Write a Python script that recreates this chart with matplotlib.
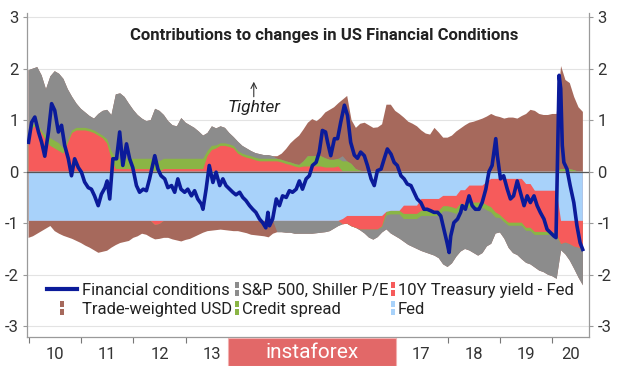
import numpy as np
import matplotlib.pyplot as plt
import matplotlib.font_manager as fm
from matplotlib.lines import Line2D
from matplotlib.path import Path
from matplotlib.patches import Rectangle

names = {f.name for f in fm.fontManager.ttflist}
FONT = 'Liberation Sans Narrow' if 'Liberation Sans Narrow' in names else 'Roboto'
plt.rcParams['font.family'] = [FONT, 'DejaVu Sans']

# monthly contributions, Jan 2010 .. Aug 2020
start_year = 2010
fed = [
    -0.955, -0.955, -0.955, -0.955, -0.955, -0.955, -0.955, -0.955, -0.955, -0.955, -0.955, -0.955,
    -0.955, -0.955, -0.955, -0.955, -0.955, -0.955, -0.955, -0.955, -0.955, -0.955, -0.955, -0.955,
    -0.955, -0.955, -0.955, -0.955, -0.955, -0.955, -0.955, -0.955, -0.955, -0.955, -0.955, -0.955,
    -0.955, -0.955, -0.955, -0.955, -0.955, -0.955, -0.955, -0.955, -0.955, -0.955, -0.955, -0.955,
    -0.955, -0.955, -0.955, -0.955, -0.955, -0.955, -0.955, -0.955, -0.955, -0.955, -0.955, -0.955,
    -0.955, -0.955, -0.955, -0.955, -0.955, -0.955, -0.955, -0.955, -0.955, -0.955, -0.955, -0.955,
    -0.92, -0.86, -0.86, -0.86, -0.86, -0.86, -0.86, -0.86, -0.86, -0.86, -0.78, -0.76,
    -0.76, -0.76, -0.66, -0.66, -0.66, -0.66, -0.53, -0.53, -0.53, -0.53, -0.53, -0.47,
    -0.47, -0.47, -0.47, -0.36, -0.36, -0.27, -0.27, -0.27, -0.27, -0.2, -0.14, -0.14,
    -0.14, -0.14, -0.14, -0.14, -0.14, -0.14, -0.24, -0.24, -0.37, -0.37, -0.37, -0.37,
    -0.37, -0.37, -0.955, -0.955, -0.955, -0.955, -0.955, -0.955,
]
treasury = [
    0.6, 0.85, 0.9, 0.75, 0.6, 0.5, 0.45, 0.4, 0.35, 0.55, 0.75, 0.8,
    0.8, 0.8, 0.78, 0.75, 0.7, 0.65, 0.55, 0.25, 0.05, 0.05, 0.05, 0.05,
    0.05, 0.05, 0.05, 0.05, 0.05, -0.08, -0.06, 0.05, 0.05, 0.05, 0.05, 0.05,
    0.05, 0.05, 0.05, 0.05, 0.05, 0.3, 0.42, 0.45, 0.5, 0.5, 0.48, 0.45,
    0.35, 0.3, 0.27, 0.25, 0.22, 0.2, 0.2, 0.2, 0.2, 0.2, 0.18, 0.15,
    0.13, 0.1, 0.08, 0.1, 0.1, 0.1, 0.1, 0.1, 0.08, 0.08, 0.08, 0.1,
    -0.1, -0.15, -0.2, -0.23, -0.26, -0.26, -0.26, -0.26, -0.26, -0.2, 0.0, 0.0,
    0.0, 0.0, -0.16, -0.16, -0.16, -0.16, -0.23, -0.23, -0.23, -0.23, -0.23, -0.2,
    -0.2, -0.22, -0.25, -0.26, -0.28, -0.33, -0.33, -0.33, -0.33, -0.45, -0.55, -0.65,
    -0.7, -0.78, -0.85, -0.85, -0.85, -0.85, -0.85, -0.85, -0.8, -0.8, -0.8, -0.8,
    -0.8, -0.85, -0.45, -0.42, -0.45, -0.5, -0.52, -0.55,
]
credit = [
    0.05, 0.05, 0.05, 0.05, 0.1, 0.15, 0.15, 0.15, 0.1, 0.05, 0.05, 0.05,
    0.05, 0.05, 0.05, 0.05, 0.05, 0.05, 0.08, 0.15, 0.2, 0.2, 0.2, 0.2,
    0.2, 0.2, 0.2, 0.2, 0.2, 0.2, 0.2, 0.2, 0.2, 0.2, 0.2, 0.2,
    0.2, 0.2, 0.2, 0.2, 0.2, 0.1, 0.08, 0.06, 0.05, 0.05, 0.05, 0.05,
    0.05, 0.05, 0.05, 0.05, 0.05, 0.05, 0.05, 0.05, 0.05, 0.05, 0.05, 0.05,
    0.05, 0.05, 0.05, 0.1, 0.2, 0.2, 0.2, 0.2, 0.18, 0.15, 0.15, 0.15,
    0.2, 0.2, 0.15, 0.05, 0.02, 0.0, 0.0, 0.0, 0.0, -0.02, -0.07, -0.07,
    -0.07, -0.07, -0.1, -0.1, -0.1, -0.1, -0.1, -0.1, -0.1, -0.1, -0.1, -0.1,
    -0.1, -0.1, -0.1, -0.1, -0.1, -0.1, -0.1, -0.1, -0.1, -0.1, -0.1, -0.1,
    -0.06, -0.06, -0.06, -0.06, -0.06, -0.06, -0.06, -0.06, -0.06, -0.06, -0.06, -0.06,
    -0.05, -0.05, 0.05, 0.05, 0.05, 0.03, 0.0, 0.0,
]
sp500 = [
    1.32, 1.1, 1.08, 1.07, 0.9, 1.2, 1.35, 1.35, 1.35, 1.0, 0.65, 0.47,
    0.37, 0.3, 0.25, 0.23, 0.37, 0.48, 0.57, 0.7, 1.25, 1.27, 1.2, 1.07,
    0.95, 0.85, 0.78, 0.73, 0.75, 1.02, 0.98, 0.85, 0.73, 0.65, 0.63, 0.79,
    0.7, 0.65, 0.6, 0.53, 0.45, 0.35, 0.38, 0.33, 0.33, 0.3, 0.22, 0.17,
    0.18, 0.15, 0.13, 0.1, 0.09, 0.09, 0.07, 0.07, 0.05, -0.22, -0.22, -0.23,
    -0.23, -0.25, -0.25, -0.25, -0.25, -0.25, -0.24, -0.23, -0.22, -0.2, -0.15, -0.1,
    0.1, 0.0, 0.0, 0.0, -0.02, -0.08, -0.16, -0.2, -0.15, -0.1, -0.27, -0.37,
    -0.42, -0.47, -0.44, -0.5, -0.54, -0.58, -0.68, -0.71, -0.74, -0.77, -0.82, -1.03,
    -1.08, -0.99, -0.83, -0.83, -0.76, -0.83, -0.88, -0.93, -0.88, -0.7, -0.61, -0.31,
    -0.28, -0.32, -0.43, -0.53, -0.57, -0.65, -0.62, -0.65, -0.63, -0.69, -0.72, -0.77,
    -0.81, -0.81, -0.12, -0.23, -0.32, -0.43, -0.58, -0.7,
]
usd = [
    -0.33, -0.3, -0.25, -0.2, -0.15, -0.1, -0.2, -0.25, -0.29, -0.32, -0.35, -0.39,
    -0.43, -0.48, -0.52, -0.57, -0.62, -0.6, -0.58, -0.52, -0.47, -0.43, -0.41, -0.39,
    -0.33, -0.3, -0.25, -0.27, -0.32, -0.28, -0.29, -0.33, -0.33, -0.36, -0.38, -0.4,
    -0.37, -0.35, -0.31, -0.27, -0.23, -0.2, -0.19, -0.18, -0.17, -0.18, -0.19, -0.2,
    -0.2, -0.22, -0.24, -0.27, -0.28, -0.29, -0.3, -0.32, -0.25, 0.05, 0.12, 0.24,
    0.37, 0.48, 0.57, 0.62, 0.65, 0.72, 0.68, 0.75, 0.89, 0.97, 1.02, 1.08,
    1.1, 1.27, 0.85, 0.8, 0.91, 0.95, 0.9, 0.85, 0.86, 0.92, 1.3, 1.3,
    1.18, 1.12, 1.05, 0.97, 0.93, 0.88, 0.8, 0.74, 0.72, 0.85, 0.76, 0.66,
    0.66, 0.7, 0.78, 0.84, 0.9, 0.95, 0.97, 1.0, 1.03, 1.07, 1.12, 1.08,
    1.06, 1.03, 1.05, 1.05, 1.03, 1.08, 1.12, 1.2, 1.18, 1.12, 1.1, 1.1,
    1.12, 1.12, 2.0, 1.73, 1.67, 1.42, 1.25, 1.16,
]

# financial conditions index
fc_dates = [
    2010.00, 2010.06, 2010.12, 2010.19, 2010.25, 2010.31, 2010.38, 2010.44, 2010.50, 2010.57,
    2010.63, 2010.69, 2010.76, 2010.82, 2010.88, 2010.95, 2011.01, 2011.07, 2011.14, 2011.20,
    2011.26, 2011.33, 2011.39, 2011.46, 2011.50, 2011.55, 2011.61, 2011.68, 2011.74, 2011.80,
    2011.87, 2011.93, 2011.99, 2012.06, 2012.12, 2012.19, 2012.25, 2012.31, 2012.38, 2012.41,
    2012.47, 2012.53, 2012.60, 2012.66, 2012.73, 2012.79, 2012.85, 2012.91, 2012.98, 2013.04,
    2013.11, 2013.17, 2013.23, 2013.30, 2013.33, 2013.39, 2013.45, 2013.52, 2013.58, 2013.65,
    2013.71, 2013.77, 2013.84, 2013.90, 2013.96, 2014.03, 2014.09, 2014.15, 2014.22, 2014.28,
    2014.34, 2014.41, 2014.47, 2014.53, 2014.57, 2014.60, 2014.66, 2014.73, 2014.79, 2014.85,
    2014.92, 2014.98, 2015.04, 2015.11, 2015.17, 2015.23, 2015.30, 2015.36, 2015.42, 2015.49,
    2015.55, 2015.61, 2015.67, 2015.71, 2015.77, 2015.84, 2015.90, 2015.96, 2016.03, 2016.09,
    2016.15, 2016.22, 2016.28, 2016.34, 2016.41, 2016.47, 2016.54, 2016.60, 2016.66, 2016.73,
    2016.79, 2016.85, 2016.92, 2016.98, 2017.04, 2017.11, 2017.17, 2017.23, 2017.30, 2017.36,
    2017.42, 2017.49, 2017.55, 2017.61, 2017.68, 2017.74, 2017.81, 2017.87, 2017.93, 2017.99,
    2018.03, 2018.06, 2018.12, 2018.19, 2018.25, 2018.28, 2018.34, 2018.41, 2018.47, 2018.53,
    2018.60, 2018.66, 2018.73, 2018.79, 2018.85, 2018.92, 2018.95, 2019.01, 2019.07, 2019.14,
    2019.20, 2019.26, 2019.33, 2019.39, 2019.46, 2019.52, 2019.58, 2019.65, 2019.71, 2019.77,
    2019.84, 2019.90, 2019.96, 2020.03, 2020.07, 2020.10, 2020.13, 2020.16, 2020.19, 2020.22,
    2020.28, 2020.34, 2020.41, 2020.47, 2020.53, 2020.58,
]
fc_values = [
    0.57, 0.96, 1.06, 0.77, 0.57, 0.30, 0.77, 1.32, 1.19, 0.77,
    0.90, 0.51, 0.25, -0.08, 0.25, 0.08, -0.01, -0.20, -0.31, -0.34,
    -0.47, -0.66, -0.44, -0.31, -0.18, -0.53, 0.25, 0.25, 0.77, 0.12,
    0.54, 0.25, 0.08, -0.27, -0.40, -0.34, -0.37, -0.14, 0.18, 0.31,
    0.05, -0.08, -0.14, -0.31, -0.27, -0.40, -0.14, -0.34, -0.40, -0.34,
    -0.47, -0.37, -0.53, -0.63, -0.73, -0.34, 0.12, -0.21, -0.01, -0.27,
    -0.14, -0.27, -0.34, -0.40, -0.45, -0.40, -0.50, -0.56, -0.66, -0.73,
    -0.79, -0.92, -0.99, -1.09, -0.79, -1.05, -0.92, -0.53, -0.66, -0.47,
    -0.50, -0.37, -0.40, -0.34, -0.18, -0.34, -0.14, -0.08, 0.12, 0.18,
    0.38, 0.80, 0.77, 0.57, 0.31, 0.64, 0.64, 0.96, 1.29, 1.09,
    0.57, 0.32, 0.26, 0.38, 0.31, 0.12, -0.14, -0.27, 0.02, 0.05,
    0.25, 0.44, 0.34, 0.18, 0.12, -0.08, -0.14, -0.24, -0.27, -0.40,
    -0.53, -0.60, -0.73, -0.73, -0.76, -0.79, -0.79, -0.86, -1.12, -1.38,
    -1.57, -1.25, -0.99, -0.92, -0.79, -0.66, -0.73, -0.47, -0.66, -0.73,
    -0.73, -0.60, -0.34, 0.00, 0.12, 0.64, 0.31, -0.14, -0.08, -0.34,
    -0.53, -0.47, -0.18, -0.40, -0.66, -0.47, -0.60, -0.47, -0.66, -0.79,
    -0.92, -1.12, -1.18, -1.25, -1.28, 0.31, 1.87, 1.61, 0.51, 0.18,
    0.05, -0.27, -0.60, -1.05, -1.38, -1.51,
]

# 14, 15 and 16 sit under the watermark box in the source
year_labels = ['10', '11', '12', '13', '', '', '', '17', '18', '19', '20']

c_fed = '#a8d2fa'
c_tsy = '#f65b5b'
c_credit = '#8ab545'
c_sp = '#8c8c8c'
c_usd = '#a6695c'
c_fc = '#0b1b9a'

t = start_year + np.arange(len(fed)) / 12.0

fig = plt.figure(figsize=(6.2, 3.66), dpi=100)
ax = fig.add_axes([0.0435, 0.0792, 0.9065, 0.8853])

# stack: positives upward, negatives downward; draw outer layers first so
# each inner layer paints over it (no seams between neighbours)
layers = [(fed, c_fed), (treasury, c_tsy), (credit, c_credit), (sp500, c_sp), (usd, c_usd)]
pos_cum = []
neg_cum = []
pb = np.zeros(len(t))
nb = np.zeros(len(t))
for vals, col in layers:
    v = np.array(vals)
    pb = pb + np.clip(v, 0, None)
    nb = nb + np.clip(v, None, 0)
    pos_cum.append(pb)
    neg_cum.append(nb)
for k in range(len(layers) - 1, -1, -1):
    col = layers[k][1]
    ax.fill_between(t, 0, pos_cum[k], facecolor=col, lw=0, zorder=2)
    ax.fill_between(t, 0, neg_cum[k], facecolor=col, lw=0, zorder=2)

ax.axhline(0, color='#555555', lw=0.9, zorder=3)
ax.plot(fc_dates, fc_values, color=c_fc, lw=2.6, zorder=4, solid_joinstyle='round')

ax.set_xlim(2009.97, 2020.70)
ax.set_ylim(-3.21, 3.08)
ax.set_yticks([-3, -2, -1, 0, 1, 2, 3])
ax.set_yticklabels(['-3', '-2', '-1', '0', '1', '2', '3'])
ax.yaxis.grid(True, color='#e3e3e3', lw=0.8)
ax.set_axisbelow(True)

ax.set_xticks(np.arange(2010, 2021))
ax.set_xticklabels([])
ax.set_xticks([y + 0.5 for y in range(2010, 2020)] + [2020.34], minor=True)
ax.set_xticklabels(year_labels, minor=True)
ax.tick_params(axis='x', which='major', length=4, color='#777777', width=0.8)
ax.tick_params(axis='x', which='minor', length=0, pad=7, labelsize=12, labelcolor='#333333')
ax.tick_params(axis='y', left=True, right=True, labelleft=True, labelright=True,
               length=3, color='#999999', labelsize=12, labelcolor='#333333', pad=3)

for s in ['left', 'right', 'bottom']:
    ax.spines[s].set_color('#9a9a9a')
    ax.spines[s].set_linewidth(0.9)
ax.spines['top'].set_visible(False)

ax.text(0.528, 0.932, 'Contributions to changes in US Financial Conditions',
        transform=ax.transAxes, ha='center', va='center', fontsize=12,
        fontweight='bold', color='#222222')
ax.annotate('', xy=(2014.3, 1.8), xytext=(2014.3, 1.4),
            arrowprops=dict(arrowstyle='->', color='#333333', lw=0.8))
ax.text(2014.3, 1.24, 'Tighter', ha='center', va='center', fontsize=12.5,
        style='italic', color='#222222')

# legend markers: two small stacked squares
sq = Path([(-0.15, 0.05), (0.15, 0.05), (0.15, 0.5), (-0.15, 0.5), (-0.15, 0.05),
           (-0.15, -0.5), (0.15, -0.5), (0.15, -0.05), (-0.15, -0.05), (-0.15, -0.5)],
          [Path.MOVETO, Path.LINETO, Path.LINETO, Path.LINETO, Path.CLOSEPOLY] * 2)


def mk(col):
    return Line2D([0], [0], marker=sq, linestyle='none', markersize=10,
                  markerfacecolor=col, markeredgewidth=0)


leg_kw = dict(frameon=False, loc='upper left', borderpad=0, borderaxespad=0,
              fontsize=12, labelspacing=0.22, labelcolor='#222222')
leg1 = ax.legend([Line2D([0], [0], color=c_fc, lw=3), mk(c_usd)],
                 ['Financial conditions', 'Trade-weighted USD'],
                 bbox_to_anchor=(0.0356, 0.166), handlelength=1.8, handletextpad=0.3, **leg_kw)
ax.add_artist(leg1)
leg2 = ax.legend([mk(c_sp), mk(c_credit)], ['S&P 500, Shiller P/E', 'Credit spread'],
                 bbox_to_anchor=(0.3678, 0.166), handlelength=0.4, handletextpad=0.1, **leg_kw)
ax.add_artist(leg2)
ax.legend([mk(c_tsy), mk(c_fed)], ['10Y Treasury yield - Fed', 'Fed'],
          bbox_to_anchor=(0.6454, 0.166), handlelength=0.4, handletextpad=0.1, **leg_kw)

# watermark box over the bottom axis
fig.patches.append(Rectangle((228 / 620, 0), 168 / 620, 28 / 366, transform=fig.transFigure,
                             facecolor='#e26868', edgecolor='#f2b0b0', lw=0.8, zorder=10))
fig.text(312 / 620, 14 / 366, 'instaforex', ha='center', va='center', color='white',
         fontsize=15, zorder=11)

fig.savefig('out.png', dpi=100)
